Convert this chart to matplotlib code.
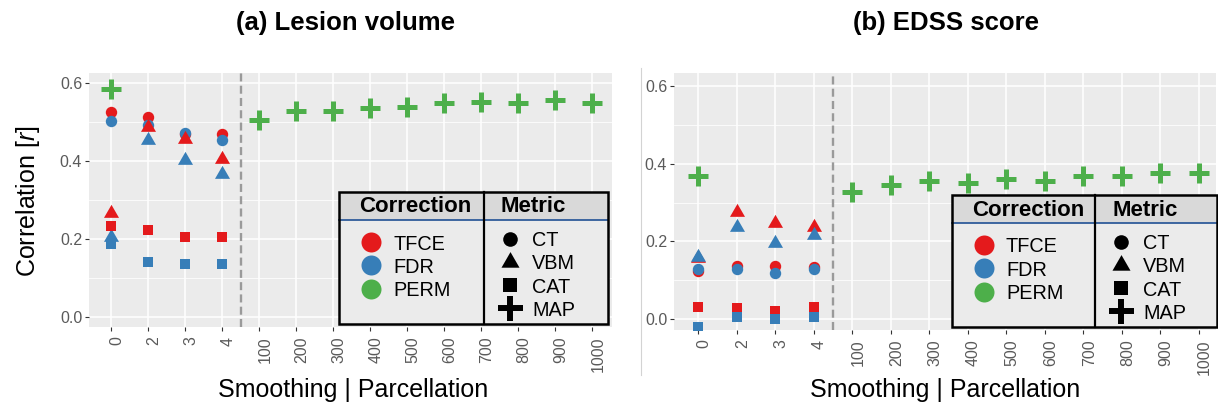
import numpy as np
import matplotlib
matplotlib.use('Agg')
import matplotlib.pyplot as plt
from matplotlib.patches import Rectangle
from matplotlib.transforms import ScaledTranslation

plt.rcParams['font.family'] = ['Liberation Sans', 'DejaVu Sans']
plt.rcParams['mathtext.fontset'] = 'custom'
plt.rcParams['mathtext.it'] = 'Liberation Sans:italic'
plt.rcParams['mathtext.rm'] = 'Liberation Sans'

nan = np.nan
categories = ['0', '2', '3', '4', '100', '200', '300', '400', '500',
              '600', '700', '800', '900', '1000']
smoothing = ['0', '2', '3', '4']

# (a) Lesion volume
a_tfce_ct = [0.525, 0.512, 0.470, 0.469]
a_fdr_ct = [0.503, 0.492, 0.473, 0.455]
a_tfce_vbm = [0.266, 0.487, 0.457, 0.405]
a_fdr_vbm = [0.206, 0.454, 0.403, 0.366]
a_tfce_cat = [0.234, 0.223, 0.206, 0.205]
a_fdr_cat = [0.188, 0.142, 0.135, 0.137]
a_perm_map = [0.584, nan, nan, nan, 0.505, 0.528, 0.528, 0.537, 0.539,
              0.548, 0.552, 0.548, 0.556, 0.549]

# (b) EDSS score
b_tfce_ct = [0.124, 0.137, 0.137, 0.133]
b_fdr_ct = [0.129, 0.130, 0.118, 0.130]
b_tfce_vbm = [0.158, 0.275, 0.246, 0.237]
b_fdr_vbm = [0.160, 0.238, 0.197, 0.216]
b_tfce_cat = [0.030, 0.029, 0.021, 0.030]
b_fdr_cat = [-0.020, 0.004, 0.001, 0.006]
b_perm_map = [0.369, nan, nan, nan, 0.328, 0.345, 0.355, 0.351, 0.360,
              0.355, 0.368, 0.368, 0.375, 0.375]

corrections = ['TFCE', 'FDR', 'PERM']
metrics = ['CT', 'VBM', 'CAT', 'MAP']

RED, BLUE, GREEN = '#E41A1C', '#377EB8', '#4DAF4A'
corr_colors = [RED, BLUE, GREEN]
TRI = [(-1, -0.577), (1, -0.577), (0, 1.155)]
metric_markers = ['o', TRI, 's', '+']

W, H = 1218, 408
fig = plt.figure(figsize=(W / 100, H / 100), dpi=100)


def px_axes(x0, y0, x1, y1):
    return fig.add_axes([x0 / W, 1 - y1 / H, (x1 - x0) / W, (y1 - y0) / H])


def draw_panel(ax, ser, xlim, ylim):
    xs = np.arange(len(smoothing))
    xall = np.arange(len(categories))
    data_ms = {'o': 8.2, 's': 7.8}
    for vals, col, mk in ser:
        if mk == '+':
            ax.plot(xall, vals, ls='none', marker='+', ms=14.4, mew=3.6,
                    color=col, zorder=3)
        elif isinstance(mk, list):
            ax.plot(xs, vals, ls='none', marker=mk, ms=12.5, mew=0,
                    color=col, zorder=3)
        else:
            ax.plot(xs, vals, ls='none', marker=mk, ms=data_ms[mk], mew=0,
                    color=col, zorder=3)
    ax.axvline(3.5, color='#9A9A9A', lw=1.7, dashes=(3.4, 1.8), zorder=2)
    ax.set_facecolor('#EBEBEB')
    for s in ax.spines.values():
        s.set_visible(False)
    ax.set_xlim(*xlim)
    ax.set_ylim(*ylim)
    ax.set_xticks(xall)
    ax.set_xticklabels(categories, rotation=90)
    ax.set_yticks([0.0, 0.2, 0.4, 0.6])
    ax.set_yticklabels(['0.0', '0.2', '0.4', '0.6'])
    ax.set_yticks([0.1, 0.3, 0.5], minor=True)
    ax.set_axisbelow(True)
    ax.grid(which='major', color='white', lw=1.1)
    ax.grid(which='minor', axis='y', color='white', lw=0.55)
    ax.tick_params(which='major', length=2.9, width=0.8, color='#333333',
                   labelcolor='#5A5A5A', labelsize=11.5, pad=2)
    ax.tick_params(axis='x', pad=4)
    ax.tick_params(which='minor', length=0)
    off = ScaledTranslation(6 / 100, 0, fig.dpi_scale_trans)
    for lbl in ax.get_xticklabels():
        lbl.set_transform(lbl.get_transform() + off)


axa = px_axes(89, 73, 612, 327)
draw_panel(axa, [(a_tfce_ct, RED, 'o'), (a_fdr_ct, BLUE, 'o'),
                 (a_tfce_vbm, RED, TRI), (a_fdr_vbm, BLUE, TRI),
                 (a_tfce_cat, RED, 's'), (a_fdr_cat, BLUE, 's'),
                 (a_perm_map, GREEN, '+')],
           (-0.595, 13.54), (-0.026, 0.626))

axb = px_axes(674, 73, 1216, 330)
draw_panel(axb, [(b_tfce_ct, RED, 'o'), (b_fdr_ct, BLUE, 'o'),
                 (b_tfce_vbm, RED, TRI), (b_fdr_vbm, BLUE, TRI),
                 (b_tfce_cat, RED, 's'), (b_fdr_cat, BLUE, 's'),
                 (b_perm_map, GREEN, '+')],
           (-0.623, 13.45), (-0.0283, 0.6335))

# overlay in pixel coordinates for layout elements
ov = fig.add_axes([0, 0, 1, 1], zorder=10)
ov.set_xlim(0, W)
ov.set_ylim(H, 0)
ov.axis('off')
ov.patch.set_alpha(0)

ov.plot([641, 641], [68, 375], color='#D3D3D3', lw=0.8)


def draw_legend(x0, y0, x1, y1, xdiv, yh):
    ov.add_patch(Rectangle((x0, yh), x1 - x0, y1 - yh, facecolor='#EBEBEB',
                           edgecolor='none', zorder=1))
    ov.add_patch(Rectangle((x0, y0), x1 - x0, yh - y0, facecolor='#D9D9D9',
                           edgecolor='none', zorder=1))
    ov.plot([x0, x1], [yh, yh], color='#2F5B9A', lw=1.3, zorder=2)
    ov.plot([xdiv, xdiv], [y0, y1], color='black', lw=1.6, zorder=3)
    ov.add_patch(Rectangle((x0, y0), x1 - x0, y1 - y0, facecolor='none',
                           edgecolor='black', lw=1.8, zorder=4))
    ov.text(x0 + 20, (y0 + yh) / 2 + 1, 'Correction', fontsize=16,
            fontweight='bold', ha='left', va='center', zorder=5)
    ov.text(xdiv + 17, (y0 + yh) / 2 + 1, 'Metric', fontsize=16,
            fontweight='bold', ha='left', va='center', zorder=5)
    for i, (lab, col) in enumerate(zip(corrections, corr_colors)):
        yy = y0 + 50 + 23.3 * i
        ov.plot(x0 + 32, yy, marker='o', ms=14.4, mew=0, color=col, zorder=5)
        ov.text(x0 + 54, yy, lab, fontsize=14.3, ha='left',
                va='center_baseline', zorder=5)
    for i, (lab, mk) in enumerate(zip(metrics, metric_markers)):
        yy = y0 + 46.5 + 23.3 * i
        if mk == '+':
            ov.plot(xdiv + 26, yy, marker='+', ms=18, mew=4.3, color='black',
                    zorder=5)
        elif isinstance(mk, list):
            ov.plot(xdiv + 26, yy, marker=mk, ms=15, mew=0, color='black',
                    zorder=5)
        else:
            ov.plot(xdiv + 26, yy, marker=mk, ms=10.5 if mk == 'o' else 9.4,
                    mew=0, color='black', zorder=5)
        ov.text(xdiv + 48, yy, lab, fontsize=14.3, ha='left',
                va='center_baseline', zorder=5)


draw_legend(339, 192, 608, 324, 484, 220)
draw_legend(952, 195, 1217, 327, 1095, 223)

# titles and axis labels
fig.text(345 / W, 1 - 23 / H, '(a) Lesion volume', fontsize=18.5,
         fontweight='bold', ha='center', va='center')
fig.text(946 / W, 1 - 23 / H, '(b) EDSS score', fontsize=18.5,
         fontweight='bold', ha='center', va='center')
fig.text(28 / W, 1 - 201 / H, 'Correlation [$\\it{r}$]', fontsize=18,
         rotation=90, ha='center', va='center')
for cx in (353, 945):
    fig.text(cx / W, 1 - 390 / H, 'Smoothing | Parcellation', fontsize=18,
             ha='center', va='center')

fig.savefig('out.png', dpi=100)
